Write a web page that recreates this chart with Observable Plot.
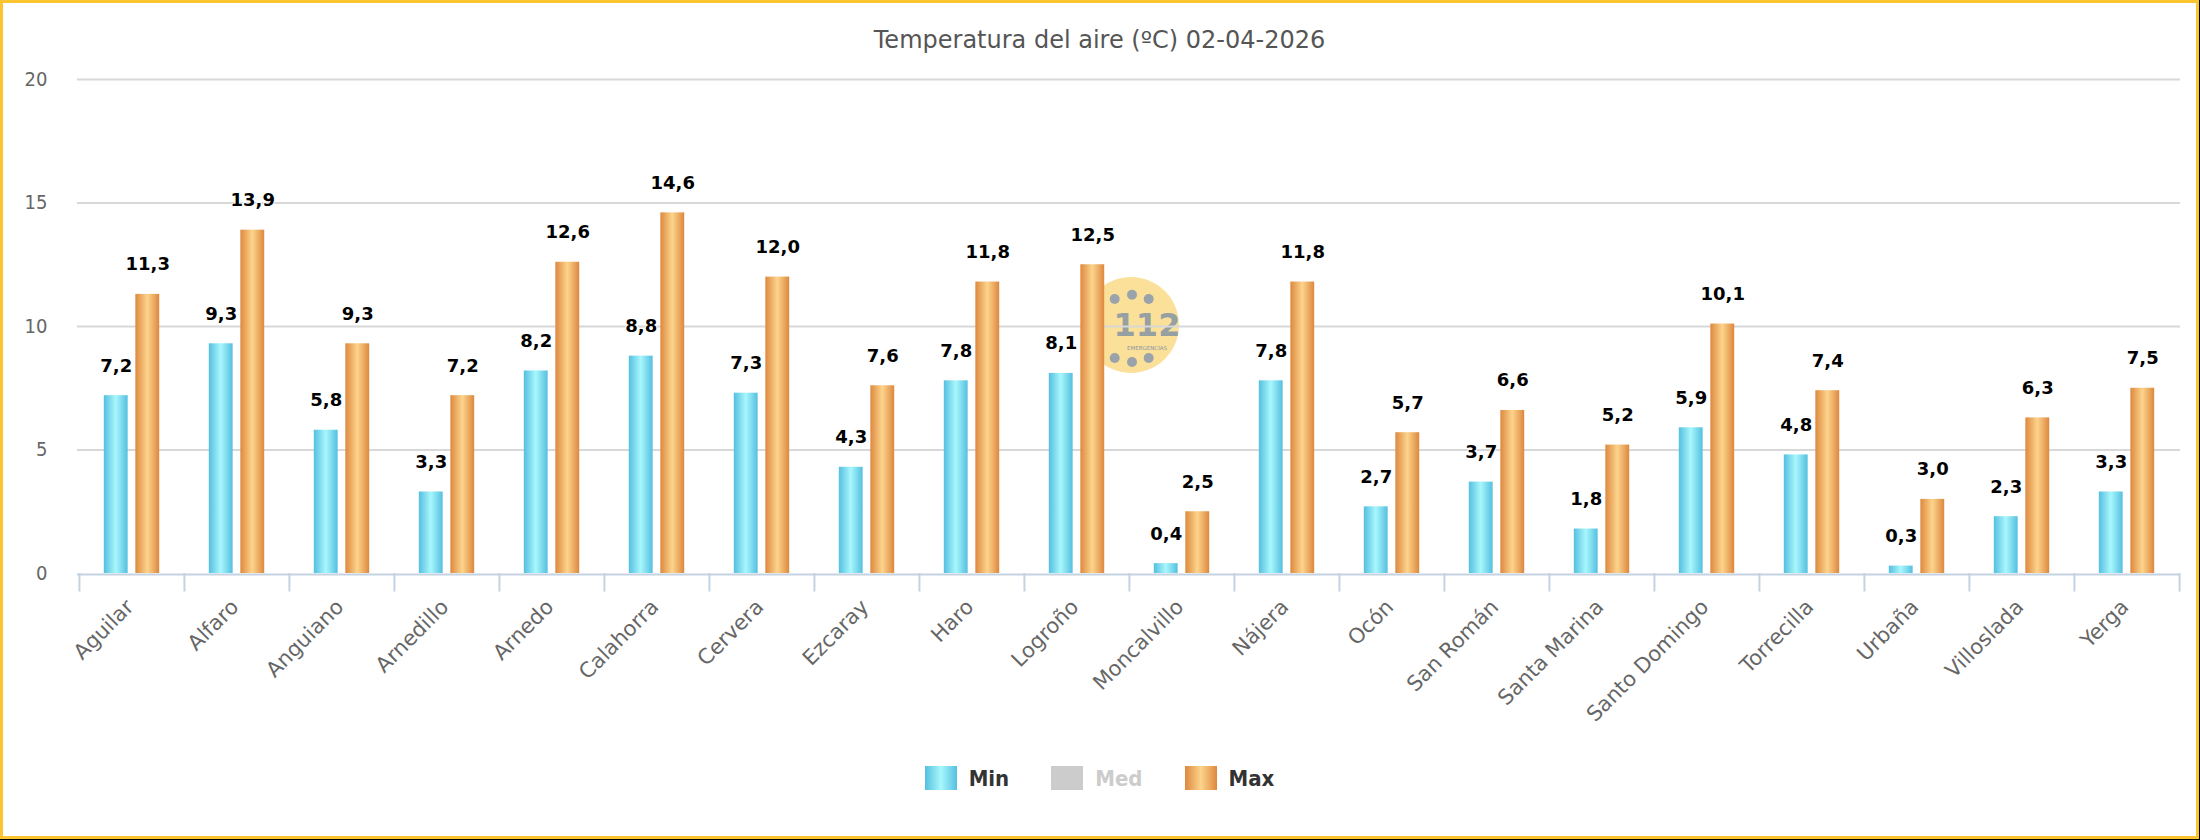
<!DOCTYPE html>
<html>
<head>
<meta charset="utf-8">
<script src="https://cdn.jsdelivr.net/npm/d3@7"></script>
<script src="https://cdn.jsdelivr.net/npm/@observablehq/plot@0.6"></script>
<style>
  html, body { margin: 0; padding: 0; background: #000; }
  #frame { position: relative; width: 2193px; height: 833px; border: 3px solid #fbc531; background: #fff; overflow: hidden; }
  #title { position: relative; z-index: 2; padding-top: 24px; height: 26px; line-height: 26px; text-align: center;
           font-family: "DejaVu Sans", sans-serif; font-size: 24px; color: #555; }
  #logo { position: absolute; left: 1073px; top: 270px; z-index: 0; }
  #chart { position: relative; z-index: 1; }
  #chart svg { display: block; }
  #legend { position: relative; z-index: 2; display: flex; justify-content: center; align-items: center; margin-top: 33px; height: 24px;
            font-family: "DejaVu Sans Condensed", "DejaVu Sans", sans-serif; font-weight: bold; font-size: 22px; }
  .item { display: flex; align-items: center; margin: 0 21px; }
  .sw { width: 32px; height: 24px; margin-right: 12px; }
</style>
</head>
<body>
<div id="frame">
  <div id="title">Temperatura del aire (ºC) 02-04-2026</div>
  <svg id="logo" width="110" height="110" viewBox="0 0 110 110">
    <circle cx="55" cy="52" r="48" fill="#f9d577" fill-opacity="0.75"></circle>
    <g fill="#8f9cab" fill-opacity="0.9">
      <circle cx="38.7" cy="26" r="5"></circle><circle cx="56" cy="21.7" r="5"></circle><circle cx="72.7" cy="26" r="5"></circle>
      <circle cx="38.7" cy="85" r="5"></circle><circle cx="56" cy="89" r="5"></circle><circle cx="72.7" cy="85" r="5"></circle>
    </g>
    <text x="71" y="63" text-anchor="middle" font-family="DejaVu Sans" font-weight="bold" font-size="32" fill="#8896a4" fill-opacity="0.9">112</text>
    <text x="71" y="77" text-anchor="middle" font-family="DejaVu Sans" font-size="5.5" fill="#8896a4">EMERGENCIAS</text>
  </svg>
  <div id="chart"></div>
  <div id="legend"></div>
</div>
<script>
const stations = ["Aguilar","Alfaro","Anguiano","Arnedillo","Arnedo","Calahorra","Cervera","Ezcaray","Haro","Logroño",
                  "Moncalvillo","Nájera","Ocón","San Román","Santa Marina","Santo Domingo","Torrecilla","Urbaña","Villoslada","Yerga"];
const minValues = [7.2, 9.3, 5.8, 3.3, 8.2, 8.8, 7.3, 4.3, 7.8, 8.1, 0.4, 7.8, 2.7, 3.7, 1.8, 5.9, 4.8, 0.3, 2.3, 3.3];
const maxValues = [11.3, 13.9, 9.3, 7.2, 12.6, 14.6, 12.0, 7.6, 11.8, 12.5, 2.5, 11.8, 5.7, 6.6, 5.2, 10.1, 7.4, 3.0, 6.3, 7.5];
const yTicks = [0, 5, 10, 15, 20];
const seriesNames = ["Min", "Med", "Max"];
const seriesVisible = [true, false, true];

const minData = stations.map((s, i) => ({station: s, series: "Min", value: minValues[i]}));
const maxData = stations.map((s, i) => ({station: s, series: "Max", value: maxValues[i]}));

const W = 2193, ML = 74, MR = 16;
const step = (W - ML - MR) / stations.length;
const half = step / 2;
const fmt = v => v.toFixed(1).replace(".", ",");

const labelStyle = {fontFamily: "DejaVu Sans", fontWeight: "bold", fontSize: 18, fill: "#000",
  stroke: "#fff", strokeWidth: 2, paintOrder: "stroke", lineAnchor: "bottom", textAnchor: "middle", dy: -24};

const plot = Plot.plot({
  width: W,
  height: 680,
  marginLeft: ML,
  marginRight: MR,
  marginTop: 26,
  marginBottom: 160,
  style: {background: "transparent", fontFamily: "DejaVu Sans"},
  x: {domain: stations, padding: 0, axis: null},
  y: {domain: [0, 20]},
  marks: [
    Plot.gridY(yTicks.filter(d => d > 0), {stroke: "#d8d8d8", strokeOpacity: 1, strokeWidth: 2}),
    Plot.axisY(yTicks, {tickSize: 0, tickPadding: 30, fontSize: 20, fill: "#666",
      fontFamily: "DejaVu Sans Condensed", label: null}),
    Plot.barY(minData, {x: "station", y: "value", fill: "url(#gMin)", insetLeft: 24.8, insetRight: step - 24.8 - 24}),
    Plot.barY(maxData, {x: "station", y: "value", fill: "url(#gMax)", insetLeft: step - 24.8 - 24, insetRight: 24.8}),
    Plot.ruleY([0], {stroke: "#c4d2e2", strokeWidth: 2, dy: 1}),
    Plot.ruleX(stations, {x: d => d, dx: -half, y1: 0, y2: -0.75, stroke: "#c4d2e2", strokeWidth: 2}),
    Plot.ruleX(stations.slice(-1), {x: d => d, dx: half, y1: 0, y2: -0.75, stroke: "#c4d2e2", strokeWidth: 2}),
    Plot.text(minData, {x: "station", y: "value", text: d => fmt(d.value), ...labelStyle, dx: -(half - 24.8 - 12)}),
    Plot.text(maxData, {x: "station", y: "value", text: d => fmt(d.value), ...labelStyle, dx: (half - 24.8 - 12)}),
    Plot.text(stations, {x: d => d, y: 0, text: d => d, rotate: -45, textAnchor: "end", lineAnchor: "middle",
      dx: -2, dy: 30, fontSize: 21, fill: "#666", fontFamily: "DejaVu Sans"})
  ]
});

plot.insertAdjacentHTML("afterbegin", `<defs>
  <linearGradient id="gMin" x1="0" y1="0" x2="1" y2="0">
    <stop offset="0" stop-color="#55bfe0"/><stop offset="0.5" stop-color="#a8f7fc"/><stop offset="1" stop-color="#55bfe0"/>
  </linearGradient>
  <linearGradient id="gMax" x1="0" y1="0" x2="1" y2="0">
    <stop offset="0" stop-color="#dd883e"/><stop offset="0.5" stop-color="#fdd48c"/><stop offset="1" stop-color="#dd883e"/>
  </linearGradient>
</defs>`);
document.getElementById("chart").appendChild(plot);

const swatchBg = {
  Min: "linear-gradient(to right, #55bfe0, #a8f7fc, #55bfe0)",
  Med: "#cccccc",
  Max: "linear-gradient(to right, #dd883e, #fdd48c, #dd883e)"
};
const legend = document.getElementById("legend");
seriesNames.forEach((name, i) => {
  const item = document.createElement("div");
  item.className = "item";
  const sw = document.createElement("div");
  sw.className = "sw";
  sw.style.background = seriesVisible[i] ? swatchBg[name] : "#cccccc";
  const t = document.createElement("span");
  t.textContent = name;
  t.style.color = seriesVisible[i] ? "#333" : "#cccccc";
  item.appendChild(sw); item.appendChild(t);
  legend.appendChild(item);
});
</script>
</body>
</html>
